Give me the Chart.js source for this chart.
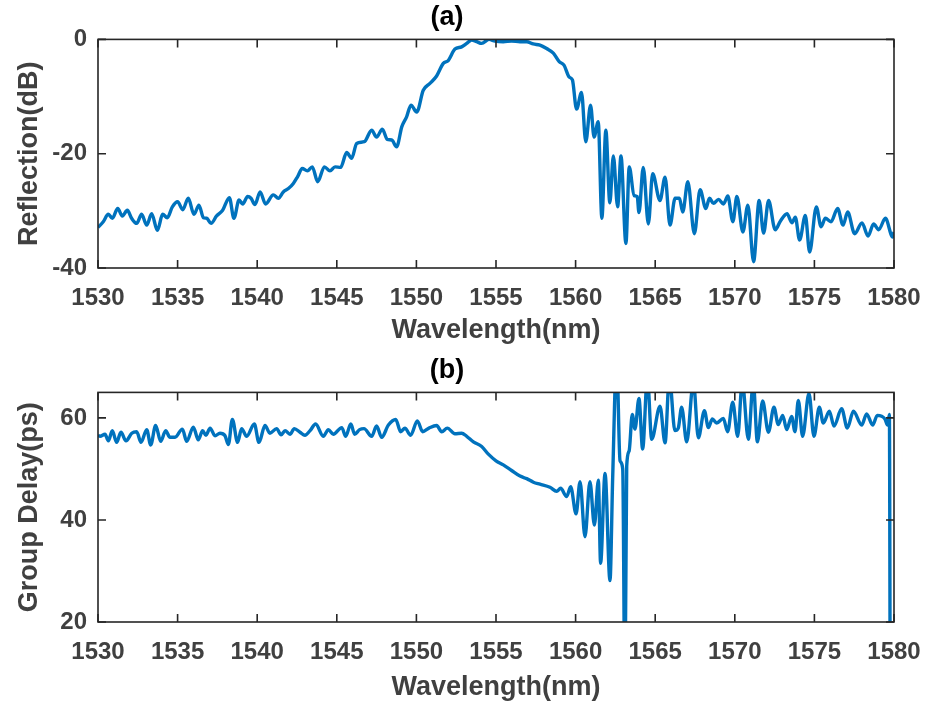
<!DOCTYPE html>
<html>
<head>
<meta charset="utf-8">
<script src="https://cdn.jsdelivr.net/npm/chart.js@4.4.1/dist/chart.umd.min.js"></script>
<style>
  body { margin: 0; background: #fff; }
  .box { position: absolute; left: 0; width: 927px; height: 353px; }
</style>
</head>
<body>
<div class="box" style="top:0"><canvas id="chartA"></canvas></div>
<div class="box" style="top:353px"><canvas id="chartB"></canvas></div>

<script>
// (a) reflection spectrum
const wavelengthA = [
  1530.00, 1530.33, 1530.65, 1530.90, 1531.24, 1531.53, 1531.84, 1532.11, 1532.43, 1532.74,
  1533.06, 1533.37, 1533.73, 1534.06, 1534.35, 1534.67, 1535.00, 1535.32, 1535.67, 1536.03,
  1536.34, 1536.62, 1536.83, 1537.10, 1537.45, 1537.83, 1538.25, 1538.54, 1538.86, 1539.09,
  1539.40, 1539.61, 1539.86, 1540.18, 1540.53, 1541.01, 1541.33, 1541.64, 1541.96, 1542.27,
  1542.54, 1542.83, 1543.15, 1543.46, 1543.80, 1544.22, 1544.57, 1544.89, 1545.24, 1545.62,
  1545.93, 1546.25, 1546.73, 1547.19, 1547.50, 1547.86, 1548.17, 1548.45, 1548.76, 1549.08,
  1549.39, 1549.66, 1550.02, 1550.43, 1550.85, 1551.27, 1551.69, 1552.00, 1552.42, 1552.84,
  1553.16, 1553.47, 1553.78, 1554.10, 1554.56, 1554.94, 1555.46, 1555.98, 1556.50, 1556.93,
  1557.34, 1557.76, 1558.18, 1558.60, 1558.97, 1559.27, 1559.60, 1559.80, 1560.06, 1560.37,
  1560.64, 1560.94, 1561.16, 1561.42, 1561.65, 1561.90, 1562.15, 1562.37, 1562.64, 1562.85,
  1563.16, 1563.37, 1563.67, 1563.87, 1563.98, 1564.25, 1564.57, 1564.84, 1565.30, 1565.62,
  1565.93, 1566.25, 1566.52, 1566.73, 1567.05, 1567.46, 1567.82, 1568.18, 1568.41, 1568.66,
  1568.98, 1569.29, 1569.56, 1569.88, 1570.13, 1570.51, 1570.82, 1571.18, 1571.53, 1571.81,
  1572.12, 1572.54, 1572.86, 1573.28, 1573.59, 1573.80, 1574.07, 1574.43, 1574.70, 1575.12,
  1575.42, 1575.69, 1576.04, 1576.46, 1576.80, 1577.09, 1577.53, 1577.99, 1578.37, 1578.72,
  1579.04, 1579.46, 1579.92, 1580.00
];
const reflection = [
  -32.9, -31.9, -30.6, -31.3, -29.6, -30.9, -29.9, -31.3, -32.2, -30.6,
  -32.5, -30.5, -33.4, -30.6, -31.2, -29.3, -28.4, -29.8, -27.8, -30.6,
  -29.0, -31.2, -31.3, -32.2, -30.9, -29.9, -27.7, -31.3, -28.1, -28.8,
  -27.5, -27.8, -28.9, -26.7, -28.8, -27.2, -27.8, -26.7, -26.1, -25.2,
  -24.0, -22.6, -23.0, -22.3, -24.9, -22.3, -23.0, -22.3, -22.4, -19.8,
  -20.8, -18.2, -17.9, -15.9, -17.1, -15.7, -17.5, -17.6, -18.8, -15.3,
  -13.5, -11.5, -12.7, -8.9, -7.7, -6.4, -4.2, -3.7, -1.7, -1.3,
  -0.7, -0.1, -0.4, -0.7, 0.0, -0.3, -0.4, -0.3, -0.4, -0.4,
  -0.8, -1.0, -1.6, -2.4, -3.9, -4.5, -6.6, -7.1, -12.2, -9.3,
  -17.9, -11.5, -17.1, -14.4, -31.3, -15.9, -28.6, -20.4, -29.3, -20.4,
  -35.7, -22.3, -27.3, -27.5, -30.3, -22.4, -32.3, -23.5, -28.2, -24.1,
  -32.5, -27.8, -27.8, -30.2, -24.9, -34.0, -26.3, -29.6, -27.8, -28.7,
  -28.0, -28.8, -27.4, -31.9, -27.5, -33.7, -29.0, -38.9, -28.2, -33.9,
  -28.2, -33.3, -31.8, -30.5, -32.1, -31.1, -35.1, -30.8, -37.2, -29.3,
  -32.8, -31.3, -31.9, -29.6, -32.5, -30.2, -34.0, -32.1, -34.4, -32.3,
  -33.3, -31.3, -34.6, -33.7
];

// (b) group delay
const wavelengthB = [
  1530.00, 1530.13, 1530.44, 1530.65, 1530.90, 1531.17, 1531.44, 1531.76, 1532.12, 1532.43,
  1532.70, 1533.06, 1533.31, 1533.62, 1533.94, 1534.25, 1534.52, 1534.84, 1535.30, 1535.57,
  1535.99, 1536.30, 1536.57, 1536.78, 1537.04, 1537.35, 1537.66, 1537.98, 1538.19, 1538.44,
  1538.77, 1539.02, 1539.34, 1539.82, 1540.11, 1540.49, 1540.80, 1541.22, 1541.50, 1541.75,
  1542.06, 1542.33, 1542.69, 1543.00, 1543.32, 1543.67, 1544.15, 1544.47, 1544.78, 1545.31,
  1545.56, 1545.88, 1546.12, 1546.43, 1546.71, 1547.19, 1547.50, 1547.82, 1548.24, 1548.70,
  1549.01, 1549.28, 1549.64, 1550.06, 1550.39, 1550.79, 1551.27, 1551.59, 1551.94, 1552.42,
  1552.84, 1553.16, 1553.58, 1554.10, 1554.52, 1555.00, 1555.46, 1555.98, 1556.51, 1556.93,
  1557.35, 1557.76, 1558.39, 1558.81, 1559.06, 1559.44, 1559.69, 1560.03, 1560.28, 1560.59,
  1560.90, 1561.18, 1561.43, 1561.57, 1561.85, 1562.16, 1562.33, 1562.58, 1562.79, 1562.96,
  1563.10, 1563.21, 1563.36, 1563.56, 1563.73, 1563.98, 1564.21, 1564.51, 1564.78, 1565.30,
  1565.62, 1565.89, 1566.24, 1566.45, 1566.66, 1566.98, 1567.40, 1567.71, 1568.09, 1568.34,
  1568.59, 1568.86, 1569.28, 1569.55, 1569.87, 1570.18, 1570.47, 1570.85, 1571.16, 1571.42,
  1571.75, 1572.11, 1572.46, 1572.73, 1573.01, 1573.26, 1573.57, 1573.78, 1573.99, 1574.26,
  1574.66, 1574.97, 1575.31, 1575.56, 1575.94, 1576.23, 1576.71, 1577.07, 1577.45, 1577.97,
  1578.28, 1578.66, 1578.95, 1579.43, 1579.60, 1579.71, 1579.77, 1580.00
];
const groupDelay = [
  56.6, 56.4, 56.8, 55.5, 57.5, 55.2, 57.2, 55.5, 57.0, 57.3,
  55.2, 57.7, 54.7, 58.5, 55.4, 57.5, 56.2, 56.2, 57.8, 55.4,
  58.2, 55.7, 57.5, 56.6, 58.0, 56.5, 57.0, 56.5, 54.8, 59.7,
  55.2, 57.9, 56.4, 58.8, 55.2, 58.5, 57.0, 57.9, 56.7, 57.5,
  56.8, 57.9, 57.2, 56.6, 57.5, 58.8, 56.4, 57.7, 56.8, 58.1,
  56.4, 58.8, 56.8, 57.7, 57.9, 56.4, 58.4, 56.2, 58.6, 59.7,
  57.3, 58.0, 56.6, 59.4, 57.3, 58.0, 58.5, 57.3, 58.0, 56.9,
  57.0, 56.4, 55.3, 54.4, 52.9, 51.6, 50.8, 49.7, 48.6, 48.1,
  47.4, 47.0, 46.4, 45.6, 46.2, 44.6, 46.5, 41.2, 47.5, 36.7,
  47.5, 39.0, 47.8, 31.5, 49.1, 28.1, 48.4, 72.0, 51.6, 50.0,
  5.0, 50.5, 53.5, 60.7, 57.8, 63.8, 53.9, 68.0, 55.8, 62.3,
  55.1, 68.0, 57.5, 58.0, 62.1, 55.3, 67.0, 56.1, 61.4, 58.1,
  59.8, 59.0, 59.9, 57.3, 63.1, 56.4, 67.0, 55.8, 67.0, 55.3,
  63.3, 57.2, 62.1, 58.7, 60.5, 57.7, 60.3, 57.3, 63.4, 56.4,
  64.8, 56.4, 62.1, 59.0, 61.3, 58.4, 61.8, 58.0, 61.3, 58.6,
  60.8, 58.6, 60.5, 59.8, 58.6, 60.7, 5.0, 5.0
];

const xTicks = [1530, 1535, 1540, 1545, 1550, 1555, 1560, 1565, 1570, 1575, 1580];

Chart.defaults.font.family = "'Liberation Sans', Arial, sans-serif";
Chart.defaults.font.weight = 'bold';
Chart.defaults.color = '#404040';

// MATLAB style box with inward ticks on all four sides
const boxAxes = {
  id: 'boxAxes',
  afterDraw(chart) {
    const ctx = chart.ctx;
    const a = chart.chartArea;
    const len = 8;
    ctx.save();
    ctx.strokeStyle = '#262626';
    ctx.lineWidth = 1.6;
    ctx.strokeRect(a.left, a.top, a.right - a.left, a.bottom - a.top);
    ctx.beginPath();
    chart.scales.x.ticks.forEach(t => {
      const px = chart.scales.x.getPixelForValue(t.value);
      ctx.moveTo(px, a.bottom); ctx.lineTo(px, a.bottom - len);
      ctx.moveTo(px, a.top); ctx.lineTo(px, a.top + len);
    });
    chart.scales.y.ticks.forEach(t => {
      const py = chart.scales.y.getPixelForValue(t.value);
      ctx.moveTo(a.left, py); ctx.lineTo(a.left + len, py);
      ctx.moveTo(a.right, py); ctx.lineTo(a.right - len, py);
    });
    ctx.stroke();
    ctx.restore();
  }
};

function makeChart(id, title, xs, ys, yLabel, yMin, yMax, yBottom, titleGap) {
  return new Chart(document.getElementById(id), {
    type: 'line',
    data: {
      datasets: [{
        data: xs.map((x, i) => ({ x: x, y: ys[i] })),
        borderColor: '#0072BD',
        borderWidth: 3.4,
        pointRadius: 0,
        cubicInterpolationMode: 'monotone',
        fill: false
      }]
    },
    options: {
      responsive: true,
      maintainAspectRatio: false,
      animation: false,
      layout: { padding: { left: 0, right: 33, top: 0, bottom: 0 } },
      plugins: {
        legend: { display: false },
        tooltip: { enabled: false },
        title: {
          display: true,
          text: title,
          font: { size: 27, weight: 'bold' },
          color: '#000',
          padding: { top: 1, bottom: 6 }
        }
      },
      scales: {
        x: {
          type: 'linear',
          min: 1530,
          max: 1580,
          afterBuildTicks: s => { s.ticks = xTicks.map(v => ({ value: v })); },
          afterFit: s => { s.height = yBottom; s.paddingLeft = 0; s.paddingRight = 0; },
          grid: { display: false, drawTicks: false },
          border: { display: false },
          ticks: { font: { size: 24 }, padding: 16, maxRotation: 0, callback: v => String(v) },
          title: {
            display: true,
            text: 'Wavelength(nm)',
            font: { size: 27 },
            padding: { top: 0, bottom: titleGap }
          }
        },
        y: {
          min: yMin,
          max: yMax,
          afterFit: s => { s.width = 98; s.paddingTop = 0; s.paddingBottom = 0; },
          grid: { display: false, drawTicks: false },
          border: { display: false },
          ticks: { stepSize: 20, includeBounds: false, font: { size: 24 }, padding: 11 },
          title: {
            display: true,
            text: yLabel,
            font: { size: 27 },
            padding: { top: 13, bottom: 0 }
          }
        }
      }
    },
    plugins: [boxAxes]
  });
}

makeChart('chartA', '(a)', wavelengthA, reflection, 'Reflection(dB)', -40, 0, 85, 6);
makeChart('chartB', '(b)', wavelengthB, groupDelay, 'Group Delay(ps)', 20, 65, 84, 2);
</script>
</body>
</html>
